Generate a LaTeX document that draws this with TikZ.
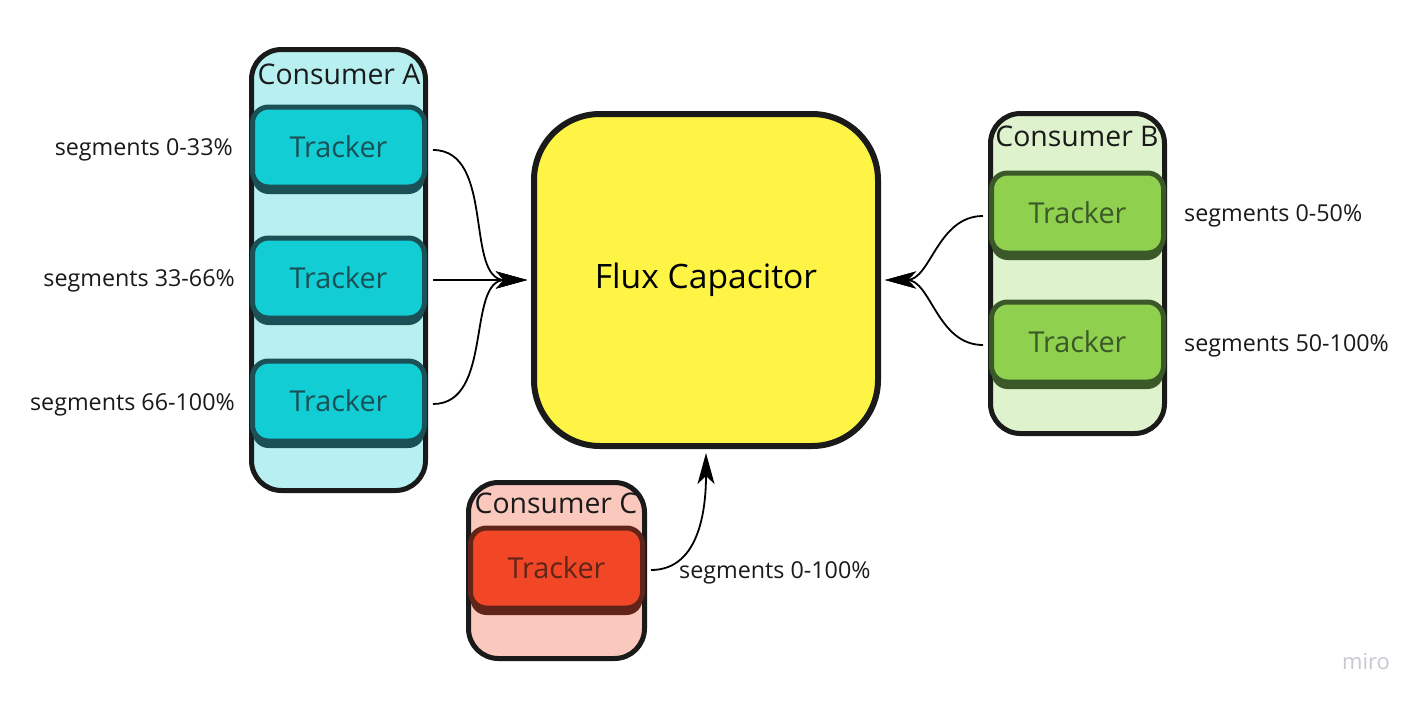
\documentclass[tikz,border=0pt]{standalone}
\usepackage{fontspec}
\setmainfont{Open Sans}
\usetikzlibrary{arrows.meta, shadows}
\definecolor{outline}{RGB}{26,26,26}
\definecolor{fluxYellow}{RGB}{254,244,69}
\definecolor{lightA}{RGB}{184,240,241}
\definecolor{fillA}{RGB}{18,205,212}
\definecolor{darkA}{RGB}{26,80,86}
\definecolor{lightB}{RGB}{221,242,205}
\definecolor{fillB}{RGB}{143,209,79}
\definecolor{darkB}{RGB}{58,88,40}
\definecolor{lightC}{RGB}{251,200,189}
\definecolor{fillC}{RGB}{242,71,38}
\definecolor{darkC}{RGB}{96,36,24}
\definecolor{miroGrey}{RGB}{200,200,208}

\tikzset{
	consumer/.style = {draw=outline, line width=5pt, rounded corners=30pt, minimum width=174pt, inner sep=0pt},
	title/.style = {text=outline, font=\fontsize{28.4}{34}\selectfont},
	tracker/.style 2 args = {fill=#1, draw=#2, text=#2, line width=5pt, rounded corners=16pt,
		minimum width=172pt, minimum height=80pt, inner sep=0pt, font=\fontsize{28.8}{34}\selectfont,
		drop shadow={shadow xshift=0pt, shadow yshift=-7pt, fill=#2, opacity=1}},
	segment/.style = {text=outline, inner sep=0pt, font=\fontsize{23.3}{28}\selectfont},
	link/.style = {line width=1.8pt, -{Stealth[length=31pt, width=17pt, inset=8pt]}}
}

\begin{document}
\begin{tikzpicture}[x=1pt, y=-1pt]

	\fill[white] (0,0) rectangle (1422,702);
	\useasboundingbox (0,0) rectangle (1422,702);

	% Flux capacitor
	\node[draw=outline, fill=fluxYellow, line width=6pt, rounded corners=66pt,
		minimum width=344pt, minimum height=332pt, font=\fontsize{33.6}{40}\selectfont] (flux) at (706,280) {Flux Capacitor};

	% Consumer A
	\node[consumer, fill=lightA, minimum height=441pt] (consA) at (338.5,270) {};
	\node[title] (titleA) at (339,74) {Consumer A};
	\node[tracker={fillA}{darkA}] (trackA1) at (338.5,147) {Tracker};
	\node[tracker={fillA}{darkA}] (trackA2) at (338.5,278) {Tracker};
	\node[tracker={fillA}{darkA}] (trackA3) at (338.5,401) {Tracker};

	% Consumer B
	\node[consumer, fill=lightB, minimum height=320pt] (consB) at (1077.5,273.5) {};
	\node[title] (titleB) at (1077,136) {Consumer B};
	\node[tracker={fillB}{darkB}] (trackB1) at (1077.5,213) {Tracker};
	\node[tracker={fillB}{darkB}] (trackB2) at (1077.5,342) {Tracker};

	% Consumer C
	\node[consumer, fill=lightC, minimum width=176pt, minimum height=176pt] (consC) at (556.5,570.5) {};
	\node[title] (titleC) at (556,503) {Consumer C};
	\node[tracker={fillC}{darkC}] (trackC) at (556.5,568) {Tracker};

	% segment labels
	\node[segment, anchor=east] (segA1) at (233,150) {segments 0-33\%};
	\node[segment, anchor=east] (segA2) at (235,281) {segments 33-66\%};
	\node[segment, anchor=east] (segA3) at (235,405) {segments 66-100\%};
	\node[segment, anchor=west] (segB1) at (1184,216) {segments 0-50\%};
	\node[segment, anchor=west] (segB2) at (1184,346) {segments 50-100\%};
	\node[segment, anchor=west] (segC) at (679,573) {segments 0-100\%};

	% Draw links.
	\draw[link] ([xshift=6pt, yshift=-3pt]trackA1.east) to[out=0, in=180] ([xshift=-4pt]flux.west);
	\draw[link] ([xshift=6pt]trackA2.east |- flux.west) -- ([xshift=-4pt]flux.west);
	\draw[link] ([xshift=6pt, yshift=-3pt]trackA3.east) to[out=0, in=180] ([xshift=-4pt]flux.west);
	\draw[link] ([xshift=-6pt, yshift=-3pt]trackB1.west) to[out=180, in=0] ([xshift=4pt]flux.east);
	\draw[link] ([xshift=-6pt, yshift=-3pt]trackB2.west) to[out=180, in=0] ([xshift=4pt]flux.east);
	\draw[link] ([xshift=6pt, yshift=-2pt]trackC.east) to[out=0, in=-90] ([yshift=-4pt]flux.south);

	\node[text=miroGrey, font=\fontsize{22}{26}\selectfont] (miro) at (1366,662) {miro};

\end{tikzpicture}
\end{document}
